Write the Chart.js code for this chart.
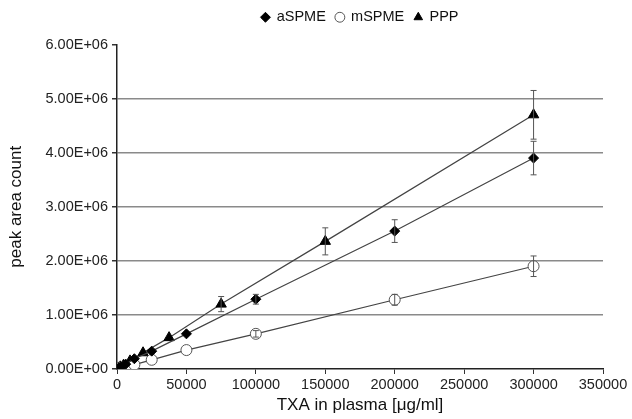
<!DOCTYPE html>
<html>
<head>
<meta charset="utf-8">
<script src="https://cdn.jsdelivr.net/npm/chart.js@4.4.1/dist/chart.umd.min.js"></script>
<style>
  html, body { margin: 0; padding: 0; background: #fff; }
  #wrap { width: 632px; height: 419px; }
</style>
</head>
<body>
<div id="wrap"><canvas id="grafico"></canvas></div>
<script>
// valores (concentração em µg/ml, área do pico)
const concASPME = [1560, 3125, 6250, 12500, 25000, 50000, 100000, 200000, 300000];
const areaASPME = [20000, 40000, 90000, 190000, 330000, 650000, 1290000, 2550000, 3900000];
const errASPME  = [5000, 8000, 10000, 20000, 30000, 50000, 90000, 210000, 310000];

const concMSPME = [1560, 3125, 6250, 12500, 25000, 50000, 100000, 200000, 300000];
const areaMSPME = [10000, 20000, 40000, 80000, 170000, 350000, 650000, 1280000, 1900000];
const errMSPME  = [3000, 5000, 8000, 10000, 20000, 30000, 60000, 100000, 190000];

const concPPP = [1170, 2340, 4690, 9375, 18750, 37500, 75000, 150000, 300000];
const areaPPP = [20000, 40000, 70000, 150000, 300000, 580000, 1200000, 2360000, 4700000];
const errPPP  = [4000, 6000, 10000, 15000, 30000, 50000, 140000, 250000, 450000];

const xTicks = ['0', '50000', '100000', '150000', '200000', '250000', '300000', '350000'];
const yTicks = ['0.00E+00', '1.00E+06', '2.00E+06', '3.00E+06', '4.00E+06', '5.00E+06', '6.00E+06'];

const FONTE = '"Liberation Sans", Arial, sans-serif';

function pontos(xs, ys) {
  return xs.map((x, i) => ({ x: x, y: ys[i] }));
}

// barras de erro desenhadas com as escalas do próprio Chart.js
const barrasErro = {
  id: 'barrasErro',
  afterDatasetsDraw(chart) {
    const ctx = chart.ctx;
    const sx = chart.scales.x;
    const sy = chart.scales.y;
    ctx.save();
    ctx.strokeStyle = '#555';
    ctx.lineWidth = 1;
    chart.data.datasets.forEach(ds => {
      ds.erros.forEach((e, i) => {
        const p = ds.data[i];
        const px = sx.getPixelForValue(p.x);
        const y1 = sy.getPixelForValue(p.y + e);
        const y2 = sy.getPixelForValue(p.y - e);
        if (y2 - y1 < 6) return;
        ctx.beginPath();
        ctx.moveTo(px, y1); ctx.lineTo(px, y2);
        ctx.moveTo(px - 3, y1); ctx.lineTo(px + 3, y1);
        ctx.moveTo(px - 3, y2); ctx.lineTo(px + 3, y2);
        ctx.stroke();
      });
    });
    ctx.restore();
  }
};

// espaço extra abaixo da legenda
const espacoLegenda = {
  id: 'espacoLegenda',
  beforeInit(chart) {
    const fitOriginal = chart.legend.fit;
    chart.legend.fit = function () {
      fitOriginal.bind(chart.legend)();
      this.height += 10;
    };
  }
};

const comum = {
  type: 'line',
  showLine: true,
  borderColor: '#444',
  borderWidth: 1.2,
  tension: 0,
  pointBorderColor: '#000',
  pointBackgroundColor: '#000',
  pointBorderWidth: 1,
};

new Chart(document.getElementById('grafico'), {
  type: 'scatter',
  data: {
    datasets: [
      { ...comum, label: 'aSPME', data: pontos(concASPME, areaASPME), erros: errASPME,
        pointStyle: 'rectRot', pointRadius: 5 },
      { ...comum, label: 'mSPME', data: pontos(concMSPME, areaMSPME), erros: errMSPME,
        pointStyle: 'circle', pointRadius: 5.5, pointBackgroundColor: '#fff', pointBorderColor: '#555' },
      { ...comum, label: 'PPP', data: pontos(concPPP, areaPPP), erros: errPPP,
        pointStyle: 'triangle', pointRadius: 6 },
    ],
  },
  options: {
    responsive: true,
    maintainAspectRatio: false,
    animation: false,
    layout: { padding: { top: 0, right: 29, bottom: 3, left: 6 } },
    plugins: {
      tooltip: { enabled: false },
      legend: {
        position: 'top',
        fullSize: false,
        labels: {
          usePointStyle: true,
          boxWidth: 8,
          boxHeight: 7,
          padding: 10,
          color: '#111',
          font: { family: FONTE, size: 14.5 },
        },
      },
    },
    scales: {
      x: {
        type: 'linear',
        min: 0,
        max: 350000,
        ticks: {
          stepSize: 50000,
          color: '#222',
          padding: 2,
          maxRotation: 0,
          font: { family: FONTE, size: 14.5 },
          callback: (v) => xTicks[Math.round(v / 50000)],
        },
        grid: { drawOnChartArea: false, tickLength: 5, tickColor: '#333' },
        border: { color: '#222', width: 1.5 },
        title: {
          display: true,
          text: 'TXA in plasma [μg/ml]',
          color: '#111',
          padding: { top: 0, bottom: 0 },
          font: { family: FONTE, size: 17 },
        },
        afterFit: (s) => { s.height = 47; },
      },
      y: {
        min: 0,
        max: 6000000,
        ticks: {
          stepSize: 1000000,
          color: '#222',
          padding: 4,
          font: { family: FONTE, size: 14.5 },
          callback: (v) => yTicks[Math.round(v / 1000000)],
        },
        grid: {
          color: (c) => (c.tick && c.tick.value > 0 && c.tick.value < 6000000) ? '#8a8a8a' : 'rgba(0,0,0,0)',
          lineWidth: 1.5,
          tickLength: 5,
          tickColor: '#333',
        },
        border: { color: '#222', width: 1.5 },
        title: {
          display: true,
          text: 'peak area count',
          color: '#111',
          padding: { top: 0, bottom: 4 },
          font: { family: FONTE, size: 17 },
        },
        afterFit: (s) => { s.width = 111; },
      },
    },
  },
  plugins: [barrasErro, espacoLegenda],
});
</script>
</body>
</html>
